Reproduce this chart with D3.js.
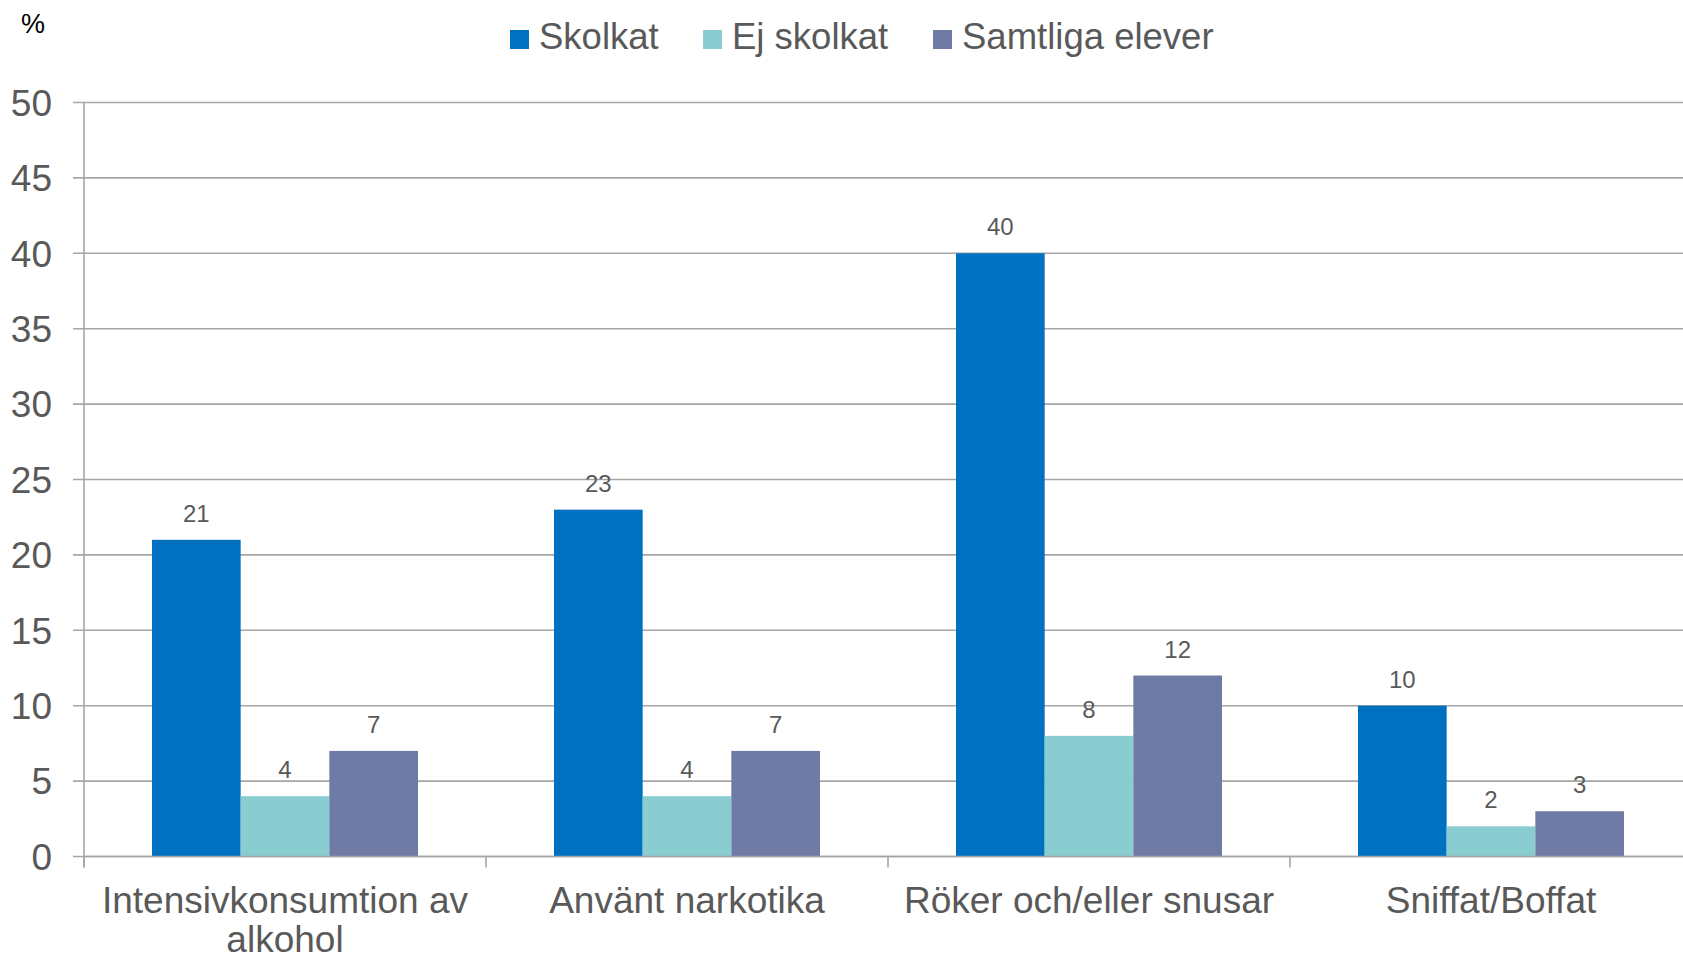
<!DOCTYPE html>
<html>
<head>
<meta charset="utf-8">
<script src="https://cdn.jsdelivr.net/npm/d3@7"></script>
<style>
  html, body { margin: 0; padding: 0; background: #fff; }
  svg { display: block; font-family: "Liberation Sans", Arial, sans-serif; }
</style>
</head>
<body>
<div id="root"></div>
<script>
// data
const categories = [['Intensivkonsumtion av', 'alkohol'], ['Använt narkotika'], ['Röker och/eller snusar'], ['Sniffat/Boffat']]
const series = ['Skolkat', 'Ej skolkat', 'Samtliga elever']
const skolkat = [21, 23, 40, 10]
const ejSkolkat = [4, 4, 8, 2]
const samtliga = [7, 7, 12, 3]
const yTicks = [0, 5, 10, 15, 20, 25, 30, 35, 40, 45, 50]
const colors = ['#0070C0', '#89CDD1', '#6F7BA5']

const values = [skolkat, ejSkolkat, samtliga]
const w = 1683, h = 961
const plotLeft = 84, plotTop = 102.5, plotBottom = 856.5
const bandW = 402

const svg = d3.select('#root')
    .append('svg')
    .attr('width', w)
    .attr('height', h)

const catKeys = categories.map(function(c) { return c.join(' ') })

const x = d3.scaleBand()
    .domain(catKeys)
    .range([plotLeft, plotLeft + bandW * catKeys.length])

const xSub = d3.scaleBand()
    .domain(series)
    .range([68, bandW - 68])

const y = d3.scaleLinear()
    .domain([0, 50])
    .range([plotBottom, plotTop])

// gridlines
svg.append('g')
    .selectAll('line')
    .data(yTicks)
    .enter()
    .append('line')
    .attr('x1', plotLeft - 11)
    .attr('x2', w)
    .attr('y1', function(d) { return y(d) })
    .attr('y2', function(d) { return y(d) })
    .attr('stroke', '#a6a6a6')
    .attr('stroke-width', 1.6)

// y tick labels
svg.append('g')
    .selectAll('text')
    .data(yTicks)
    .enter()
    .append('text')
    .attr('x', 52)
    .attr('y', function(d) { return y(d) })
    .attr('dy', '0.36em')
    .attr('text-anchor', 'end')
    .attr('font-size', 37)
    .attr('fill', '#595959')
    .text(function(d) { return d })

// y axis line
svg.append('line')
    .attr('x1', plotLeft).attr('x2', plotLeft)
    .attr('y1', y(50)).attr('y2', plotBottom + 11)
    .attr('stroke', '#a6a6a6')
    .attr('stroke-width', 1.6)

// bars
const groups = svg.append('g')
    .selectAll('g')
    .data(catKeys)
    .enter()
    .append('g')
    .attr('transform', function(d) { return 'translate(' + x(d) + ',0)' })

groups.selectAll('rect')
    .data(function(d, i) { return series.map(function(s, j) { return {s: s, v: values[j][i], j: j} }) })
    .enter()
    .append('rect')
    .attr('x', function(d) { return xSub(d.s) })
    .attr('width', xSub.bandwidth())
    .attr('y', function(d) { return y(d.v) })
    .attr('height', function(d) { return plotBottom - y(d.v) })
    .attr('fill', function(d) { return colors[d.j] })

groups.selectAll('text.val')
    .data(function(d, i) { return series.map(function(s, j) { return {s: s, v: values[j][i]} }) })
    .enter()
    .append('text')
    .attr('class', 'val')
    .attr('x', function(d) { return xSub(d.s) + xSub.bandwidth() / 2 })
    .attr('y', function(d) { return y(d.v) - 18 })
    .attr('text-anchor', 'middle')
    .attr('font-size', 24)
    .attr('fill', '#595959')
    .text(function(d) { return d.v })

// x axis line and ticks
svg.append('line')
    .attr('x1', plotLeft).attr('x2', w)
    .attr('y1', plotBottom).attr('y2', plotBottom)
    .attr('stroke', '#a6a6a6')
    .attr('stroke-width', 1.6)

svg.append('g')
    .selectAll('line')
    .data(catKeys)
    .enter()
    .append('line')
    .attr('x1', function(d) { return x(d) })
    .attr('x2', function(d) { return x(d) })
    .attr('y1', plotBottom)
    .attr('y2', plotBottom + 11)
    .attr('stroke', '#a6a6a6')
    .attr('stroke-width', 1.6)

// category labels
const catText = svg.append('g')
    .selectAll('text')
    .data(categories)
    .enter()
    .append('text')
    .attr('text-anchor', 'middle')
    .attr('font-size', 37)
    .attr('fill', '#595959')

catText.selectAll('tspan')
    .data(function(d, i) { return d.map(function(line) { return {line: line, key: catKeys[i]} }) })
    .enter()
    .append('tspan')
    .attr('x', function(d) { return x(d.key) + bandW / 2 })
    .attr('y', function(d, i) { return 913 + i * 39 })
    .text(function(d) { return d.line })

// unit label
svg.append('text')
    .attr('x', 21)
    .attr('y', 33)
    .attr('font-size', 27)
    .attr('fill', '#000')
    .text('%')

// legend
const legendX = [510, 703, 933]
const legend = svg.append('g')
    .selectAll('g')
    .data(series)
    .enter()
    .append('g')
    .attr('transform', function(d, i) { return 'translate(' + legendX[i] + ',30)' })

legend.append('rect')
    .attr('width', 19)
    .attr('height', 19)
    .attr('fill', function(d, i) { return colors[i] })

legend.append('text')
    .attr('x', 29)
    .attr('y', 19)
    .attr('font-size', 36.5)
    .attr('fill', '#595959')
    .text(function(d) { return d })
</script>
</body>
</html>
